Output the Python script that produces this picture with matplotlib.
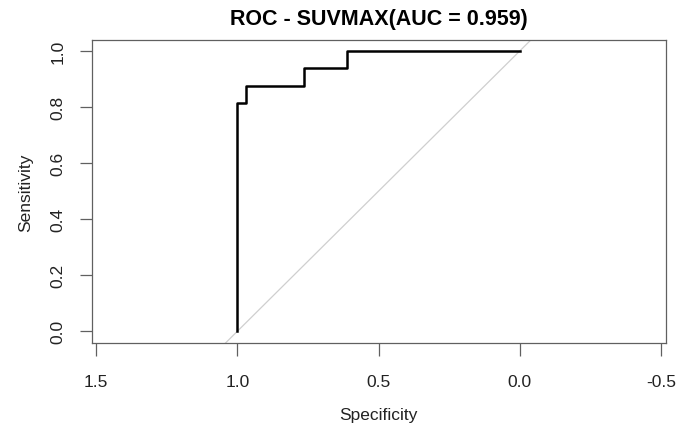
#!/usr/bin/env python3
"""ROC curve for SUVMAX, pROC-style layout (reversed specificity axis)."""
import matplotlib
matplotlib.use('Agg')
import matplotlib.pyplot as plt
from matplotlib import rcParams

rcParams['font.family'] = ['Liberation Sans', 'DejaVu Sans']
rcParams['axes.unicode_minus'] = False

# ROC step points (specificity, sensitivity)
specificity = [1.0, 1.0, 0.969, 0.969, 0.764, 0.764, 0.613, 0.613, 0.0]
sensitivity = [0.0, 0.8125, 0.8125, 0.875, 0.875, 0.9375, 0.9375, 1.0, 1.0]
auc = 0.959

x_ticks = [1.5, 1.0, 0.5, 0.0, -0.5]
y_ticks = [0.0, 0.2, 0.4, 0.6, 0.8, 1.0]


def main():
    fig = plt.figure(figsize=(6.9, 4.27), dpi=100)
    ax = fig.add_axes([0.1329, 0.194, 0.8323, 0.7108])

    # chance diagonal
    ax.axline((1.0, 0.0), (0.0, 1.0), color='#cfcfcf', linewidth=0.9, zorder=1)
    ax.plot(specificity, sensitivity, color='black', linewidth=1.8, zorder=2)

    ax.set_xlim(1.515, -0.517)
    ax.set_ylim(-0.042, 1.04)
    ax.set_xticks(x_ticks)
    ax.set_xticklabels([f'{v:.1f}' for v in x_ticks])
    ax.set_yticks(y_ticks)
    ax.set_yticklabels([f'{v:.1f}' for v in y_ticks], rotation=90, va='center')

    for side in ax.spines.values():
        side.set_color('#606060')
        side.set_linewidth(0.9)
    ax.tick_params(axis='both', direction='out', length=9, width=0.9,
                   color='#606060', labelsize=12.5, labelcolor='#222222')
    ax.tick_params(axis='x', pad=13)
    ax.tick_params(axis='y', pad=10)

    ax.set_xlabel('Specificity', fontsize=12.5, color='#222222', labelpad=13.5)
    ax.set_ylabel('Sensitivity', fontsize=12.5, color='#222222', labelpad=12)
    ax.set_title(f'ROC - SUVMAX(AUC = {auc:.3f})', fontsize=15.5,
                 fontweight='bold', pad=11)

    fig.savefig('out.png', dpi=100)


if __name__ == '__main__':
    main()
